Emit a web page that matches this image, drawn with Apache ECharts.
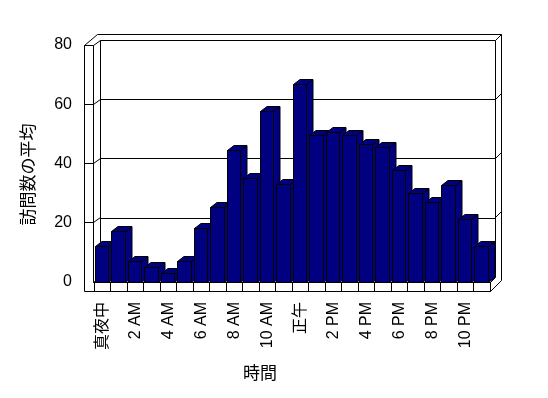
<!DOCTYPE html>
<html>
<head>
<meta charset="utf-8">
<script src="https://cdn.jsdelivr.net/npm/echarts@6/dist/echarts.min.js"></script>
<style>
  html, body { margin: 0; padding: 0; background: #fff; }
  #chart { width: 548px; height: 398px; }
</style>
</head>
<body>
<div id="chart"></div>
<script>
// data
const hours = [
  '真夜中', '1 AM', '2 AM', '3 AM', '4 AM', '5 AM', '6 AM', '7 AM', '8 AM', '9 AM', '10 AM', '11 AM',
  '正午', '1 PM', '2 PM', '3 PM', '4 PM', '5 PM', '6 PM', '7 PM', '8 PM', '9 PM', '10 PM', '11 PM'
]
const visits = [
  12, 17, 7, 5, 3, 7, 18, 25, 44.5, 35, 57.5, 33,
  66.5, 49.5, 50.5, 49.5, 46.5, 45.5, 37.5, 30, 27, 32.5, 21, 12
]
const yMin = 0
const yMax = 80
const yStep = 20
const yTitle = '訪問数の平均'
const xTitle = '時間'

// layout of the 3d box (front plane / back wall)
const L = 94, R = 490, T = 45, B = 282   // front plane
const BL = 100.5, BR = 495, BT = 40, BB = 277 // back wall
const OL = 84, OT = 34, OR = 501, FB = 291.5  // outer edges (wall thickness)
const DX = 6.5, DY = 5 // depth of bars
const NAVY = '#000080'
const FONT = "'Liberation Sans', 'Noto Sans CJK JP', sans-serif"

const chart = echarts.init(document.getElementById('chart'), null, { renderer: 'canvas' })

const crisp = (v) => Math.round(v - 0.5) + 0.5

function renderBar(params, api) {
  const i = api.value(0)
  const v = api.value(1)
  const base = api.coord([i, 0])
  const top = api.coord([i, v])
  const band = api.size([1, 0])[0]
  const x0 = crisp(base[0] - band * 0.42)
  const x1 = crisp(base[0] + band * 0.39)
  const y0 = crisp(base[1])
  const y1 = crisp(top[1])
  const style = { fill: NAVY, stroke: '#000', lineWidth: 1 }
  return {
    type: 'group',
    children: [
      { type: 'polygon', shape: { points: [[x1, y0], [x1 + DX, y0 - DY], [x1 + DX, y1 - DY], [x1, y1]] }, style },
      { type: 'polygon', shape: { points: [[x0, y1], [x0 + DX, y1 - DY], [x1 + DX, y1 - DY], [x1, y1]] }, style },
      { type: 'rect', shape: { x: x0, y: y1, width: x1 - x0, height: y0 - y1 }, style }
    ]
  }
}

chart.setOption({
  animation: false,
  textStyle: { fontFamily: FONT, color: '#000' },
  grid: [
    { left: L, right: 548 - R, top: T, bottom: 398 - B },
    { left: BL, right: 548 - BR, top: BT, bottom: 398 - BB }
  ],
  xAxis: [
    {
      type: 'category',
      gridIndex: 0,
      data: hours,
      name: xTitle,
      nameLocation: 'middle',
      nameGap: 84,
      nameTextStyle: { fontSize: 17, color: '#000', padding: [0, 64, 0, 0] },
      axisLine: { show: true, lineStyle: { color: '#000', width: 1 } },
      axisTick: { show: true, interval: 0, length: 9.5, lineStyle: { color: '#000' } },
      axisLabel: { interval: 1, rotate: 90, margin: 20, fontSize: 16, color: '#000' }
    },
    { type: 'category', gridIndex: 1, data: hours, show: false }
  ],
  yAxis: [
    {
      type: 'value',
      gridIndex: 0,
      min: yMin,
      max: yMax,
      interval: yStep,
      offset: L - OL,
      name: yTitle,
      nameLocation: 'middle',
      nameRotate: 90,
      nameGap: 46,
      nameTextStyle: { fontSize: 17, color: '#000', padding: [0, 22, 0, 0] },
      axisLine: { show: false },
      axisTick: { show: false },
      splitLine: { show: false },
      axisLabel: { margin: 12, fontSize: 16, color: '#000' }
    },
    {
      type: 'value',
      gridIndex: 1,
      min: yMin,
      max: yMax,
      interval: yStep,
      axisLine: { show: false },
      axisTick: { show: false },
      axisLabel: { show: false },
      splitLine: { show: true, lineStyle: { color: '#000', width: 1 } }
    }
  ],
  series: [{
    type: 'custom',
    xAxisIndex: 0,
    yAxisIndex: 0,
    renderItem: renderBar,
    encode: { x: 0, y: 1 },
    data: visits.map((v, i) => [i, v]),
    z: 5
  }]
})

// frame of the 3d box, tick rungs taken from the axes
const line = (pts, z) => ({
  type: 'polyline',
  shape: { points: pts.map(p => [crisp(p[0]), crisp(p[1])]) },
  style: { stroke: '#000', lineWidth: 1, fill: null },
  z: z || 1
})
const frame = [
  line([[OL, FB], [OL, T], [97, OT], [OR, OT], [OR, 280], [R, FB], [OL, FB]]),
  line([[OL, T], [L - 0.5, T], [L - 0.5, B]]),
  line([[L - 0.5, T], [BL, BT], [BR, BT], [OR, OT]]),
  line([[BL, BT], [BL, BB]]),
  line([[BR, BT], [BR, BB], [R, B], [R, FB]]),
  line([[L - 0.5, B], [BL, BB]])
]
for (let v = yMin + yStep; v < yMax; v += yStep) {
  const yf = chart.convertToPixel({ yAxisIndex: 0 }, v)
  const yb = chart.convertToPixel({ yAxisIndex: 1 }, v)
  frame.push(line([[OL, yf], [L - 0.5, yf], [BL, yb]]))
  frame.push(line([[BR, yb], [OR, yb - 6]]))
}
chart.setOption({ graphic: frame })
</script>
</body>
</html>
